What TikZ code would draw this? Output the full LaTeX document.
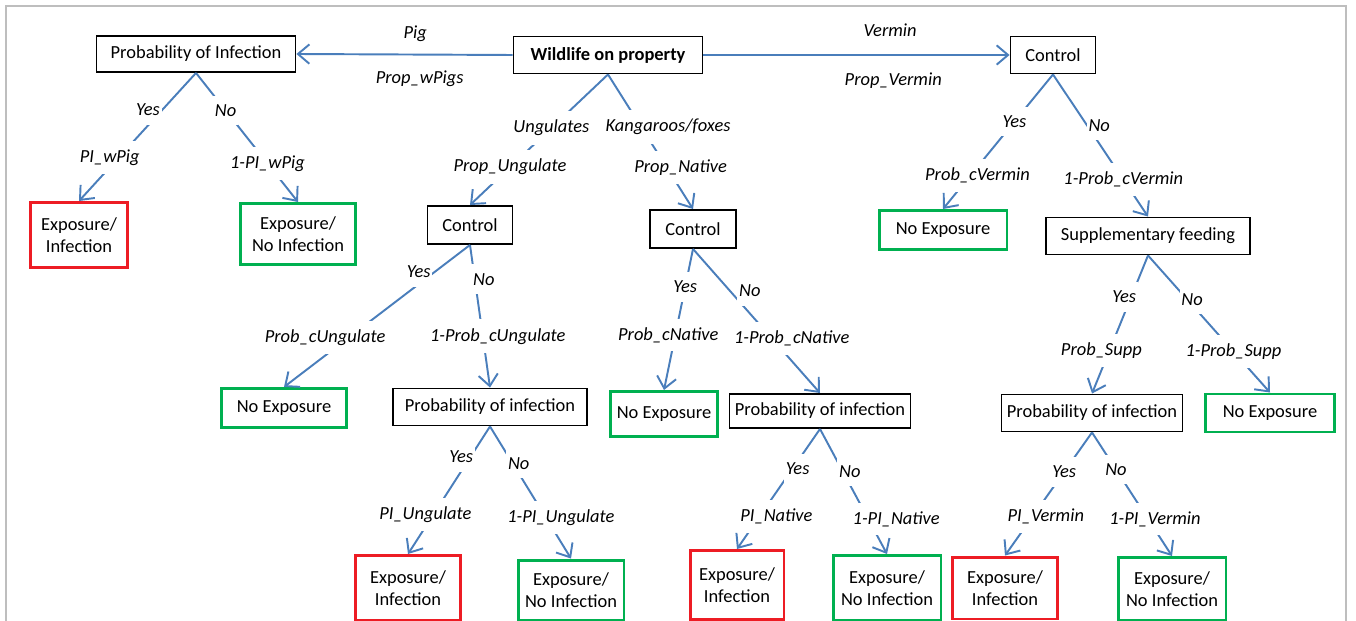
\documentclass[tikz,border=0pt]{standalone}
\usepackage{fontspec}
\setmainfont{Carlito}
\usetikzlibrary{arrows.meta}

\begin{document}
\begin{tikzpicture}[x=0.02cm,y=-0.02cm]
  \definecolor{arrowblue}{RGB}{74,126,187};
  \definecolor{boxred}{RGB}{237,28,36};
  \definecolor{boxgreen}{RGB}{0,176,80};
  \definecolor{framegray}{RGB}{190,190,190};
  \tikzset{
    box/.style={draw=black,line width=1.1pt,align=center,inner sep=0pt,font=\fontsize{10.5}{12.5}\selectfont},
    redbox/.style={box,draw=boxred,line width=1.7pt},
    greenbox/.style={box,draw=boxgreen,line width=1.7pt},
    branch/.style={draw=arrowblue,line width=1.1pt,-{Straight Barb[length=6.5pt,width=11pt]}},
    lbl/.style={fill=white,inner xsep=1pt,inner ysep=5pt,font=\fontsize{10.5}{12.5}\selectfont\itshape},
  }
  \useasboundingbox (0,0) rectangle (1356,621);
  \draw[framegray,line width=0.8pt] (6,621) -- (6,6) -- (1346,6) -- (1346,621);
  % top row
  \node[box,minimum width=3.78cm,minimum height=0.74cm,font=\fontsize{10.5}{12.5}\selectfont\bfseries] (wild) at (608,55) {Wildlife on property};
  \node[box,minimum width=3.98cm,minimum height=0.72cm] (pil) at (196,54) {Probability of Infection};
  \node[box,minimum width=1.70cm,minimum height=0.74cm] (ctrlv) at (1053,55) {Control};
  % second row
  \node[redbox,minimum width=1.96cm,minimum height=1.30cm] (eiwp) at (79,235) {Exposure/\\Infection};
  \node[greenbox,minimum width=2.32cm,minimum height=1.22cm] (enwp) at (298,234) {Exposure/\\No Infection};
  \node[box,minimum width=1.70cm,minimum height=0.76cm] (ctrlu) at (470,225) {Control};
  \node[box,minimum width=1.72cm,minimum height=0.76cm] (ctrln) at (693,229) {Control};
  \node[greenbox,minimum width=2.56cm,minimum height=0.78cm] (nev) at (943,230) {No Exposure};
  \node[box,minimum width=4.08cm,minimum height=0.74cm] (supp) at (1148,236) {Supplementary feeding};
  % third row
  \node[greenbox,minimum width=2.52cm,minimum height=0.78cm] (neu) at (284,408) {No Exposure};
  \node[box,minimum width=3.88cm,minimum height=0.74cm] (piu) at (490,407) {Probability of infection};
  \node[greenbox,minimum width=2.14cm,minimum height=0.90cm] (nen) at (664,414) {No Exposure};
  \node[box,minimum width=3.62cm,minimum height=0.68cm] (pin) at (820,411) {Probability of infection};
  \node[box,minimum width=3.62cm,minimum height=0.74cm] (piv) at (1092,413) {Probability of infection};
  \node[greenbox,minimum width=2.58cm,minimum height=0.76cm] (nes) at (1270,413) {No Exposure};
  % bottom row
  \node[redbox,minimum width=2.10cm,minimum height=1.30cm] (eiu) at (408,588) {Exposure/\\Infection};
  \node[greenbox,minimum width=2.12cm,minimum height=1.20cm] (enu) at (571,590) {Exposure/\\No Infection};
  \node[redbox,minimum width=1.88cm,minimum height=1.38cm] (ein) at (737,585) {Exposure/\\Infection};
  \node[greenbox,minimum width=2.16cm,minimum height=1.30cm] (enn) at (887,588) {Exposure/\\No Infection};
  \node[redbox,minimum width=2.10cm,minimum height=1.24cm] (eiv) at (1005,588) {Exposure/\\Infection};
  \node[greenbox,minimum width=2.16cm,minimum height=1.26cm] (env) at (1172,589) {Exposure/\\No Infection};
  % branches from the root
  \draw[branch] (wild.west) -- node[lbl,pos=.45,yshift=.42cm]{Pig} node[lbl,pos=.43,yshift=-.48cm]{Prop\_wPigs} (pil.east);
  \draw[branch] (wild.east) -- node[lbl,pos=.61,yshift=.5cm]{Vermin} node[lbl,pos=.62,yshift=-.52cm]{Prop\_Vermin} (ctrlv.west);
  \draw[branch] (wild.south) -- node[lbl,pos=.41]{Ungulates} node[lbl,pos=.71]{Prop\_Ungulate} (ctrlu.north);
  \draw[branch] (wild.south) -- node[lbl,pos=.39,xshift=.54cm]{Kangaroos/foxes} node[lbl,pos=.69,xshift=.28cm]{Prop\_Native} (ctrln.north);
  % yes/no branches
  \foreach \from/\to/\a/\pa/\sa/\b/\pb/\sb in {
    pil/eiwp/Yes/.29/-.28/PI\_wPig/.66/-.18,
    pil/enwp/No/.29/0/1-PI\_wPig/.70/0,
    ctrlv/nev/Yes/.35/0/Prob\_cVermin/.75/.14,
    ctrlv/supp/No/.36/.24/1-Prob\_cVermin/.74/0,
    ctrlu/neu/Yes/.19/-.32/Prob\_cUngulate/.65/-.48,
    ctrlu/piu/No/.24/.18/1-Prob\_cUngulate/.64/.3,
    ctrln/nen/Yes/.27/0/Prob\_cNative/.61/-.14,
    ctrln/pin/No/.29/.4/1-Prob\_cNative/.62/.4,
    supp/piv/Yes/.3/-.14/Prob\_Supp/.69/-.16,
    supp/nes/No/.32/.1/1-Prob\_Supp/.70/0,
    piu/eiu/Yes/.24/-.18/PI\_Ungulate/.69/-.16,
    piu/enu/No/.28/.12/1-PI\_Ungulate/.69/.3,
    pin/ein/Yes/.33/.1/PI\_Native/.73/.34,
    pin/enn/No/.34/.14/1-PI\_Native/.72/.56,
    piv/eiv/Yes/.32/0/PI\_Vermin/.68/.26,
    piv/env/No/.3/0/1-PI\_Vermin/.7/.14} {
    \draw[branch] (\from.south) -- node[lbl,pos=\pa,xshift=\sa cm]{\a} node[lbl,pos=\pb,xshift=\sb cm]{\b} (\to.north);
  }
\end{tikzpicture}
\end{document}
